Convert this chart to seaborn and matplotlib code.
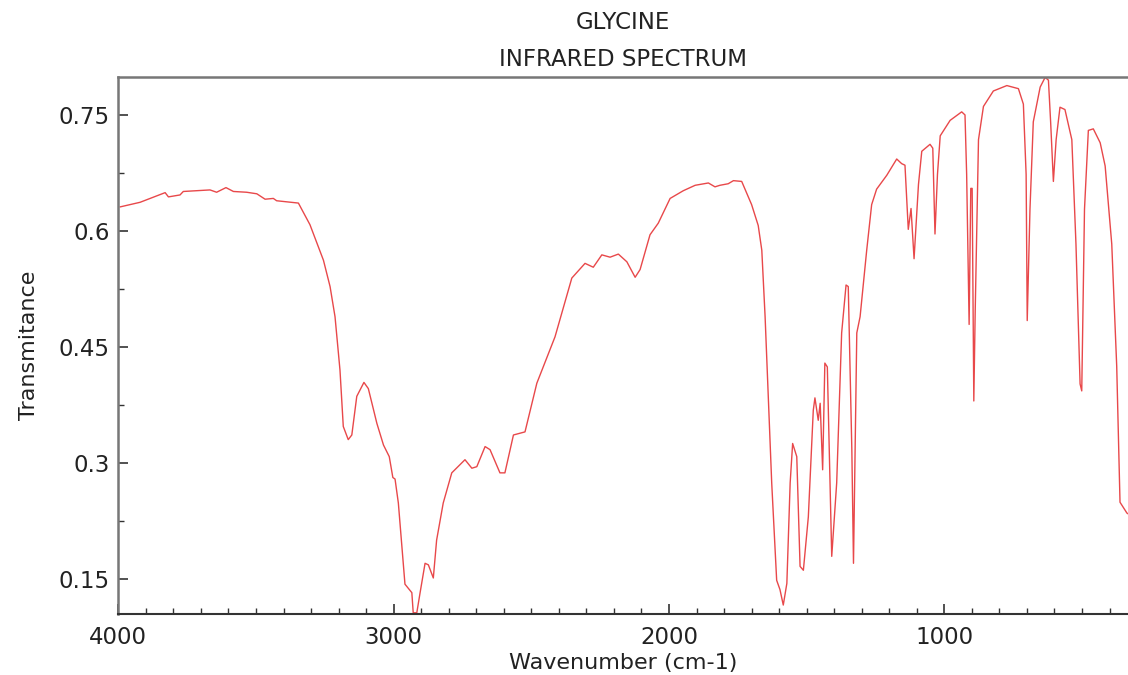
import matplotlib
matplotlib.use("Agg")
import matplotlib.pyplot as plt
import seaborn as sns
import pandas as pd
from matplotlib.ticker import MultipleLocator, FuncFormatter

# IR spectrum of glycine
wavenumber = [
    3994, 3921, 3830, 3818, 3776, 3764, 3667, 3643, 3609, 3582,
    3534, 3497, 3467, 3437, 3425, 3346, 3304, 3255, 3231, 3213,
    3195, 3183, 3165, 3152, 3134, 3108, 3092, 3061, 3037, 3016,
    3003, 2995, 2983, 2959, 2934, 2929, 2916, 2904, 2886, 2874,
    2856, 2844, 2820, 2789, 2741, 2716, 2698, 2668, 2650, 2614,
    2596, 2565, 2523, 2480, 2414, 2353, 2305, 2275, 2244, 2214,
    2184, 2153, 2123, 2105, 2069, 2039, 1996, 1948, 1905, 1857,
    1833, 1815, 1785, 1766, 1736, 1700, 1676, 1663, 1651, 1627,
    1609, 1597, 1585, 1572, 1560, 1551, 1536, 1524, 1512, 1494,
    1476, 1470, 1458, 1451, 1442, 1434, 1425, 1409, 1391, 1373,
    1357, 1349, 1336, 1330, 1324, 1318, 1306, 1282, 1264, 1246,
    1209, 1173, 1155, 1143, 1131, 1121, 1110, 1094, 1082, 1052,
    1042, 1034, 1025, 1015, 979, 937, 925, 919, 910, 904,
    899, 893, 888, 876, 858, 822, 773, 731, 713, 703,
    699, 689, 677, 652, 634, 622, 614, 604, 594, 580,
    562, 537, 522, 507, 501, 491, 477, 459, 434, 416,
    392, 374, 362, 337, 333,
]
transmittance = [
    0.631, 0.637, 0.6495, 0.644, 0.6465, 0.651, 0.653, 0.650, 0.656, 0.651,
    0.650, 0.648, 0.641, 0.642, 0.639, 0.636, 0.608, 0.562, 0.528, 0.489,
    0.420, 0.347, 0.330, 0.336, 0.386, 0.404, 0.396, 0.351, 0.323, 0.308,
    0.281, 0.279, 0.248, 0.143, 0.132, 0.106, 0.106, 0.132, 0.170, 0.168,
    0.151, 0.200, 0.248, 0.287, 0.304, 0.293, 0.295, 0.321, 0.317, 0.287,
    0.287, 0.336, 0.340, 0.403, 0.463, 0.539, 0.558, 0.553, 0.569, 0.566,
    0.570, 0.560, 0.540, 0.550, 0.595, 0.610, 0.642, 0.652, 0.659, 0.662,
    0.657, 0.659, 0.661, 0.665, 0.664, 0.634, 0.607, 0.575, 0.489, 0.274,
    0.148, 0.136, 0.116, 0.144, 0.274, 0.325, 0.308, 0.166, 0.161, 0.230,
    0.368, 0.384, 0.355, 0.377, 0.291, 0.429, 0.424, 0.179, 0.274, 0.468,
    0.530, 0.528, 0.317, 0.170, 0.317, 0.468, 0.489, 0.575, 0.634, 0.654,
    0.672, 0.693, 0.687, 0.685, 0.602, 0.629, 0.564, 0.660, 0.703, 0.712,
    0.707, 0.596, 0.673, 0.723, 0.743, 0.754, 0.750, 0.673, 0.479, 0.655,
    0.655, 0.380, 0.495, 0.718, 0.761, 0.781, 0.788, 0.784, 0.764, 0.673,
    0.484, 0.628, 0.741, 0.786, 0.7986, 0.795, 0.741, 0.664, 0.718, 0.760,
    0.757, 0.718, 0.583, 0.402, 0.393, 0.628, 0.730, 0.732, 0.714, 0.684,
    0.583, 0.425, 0.249, 0.235, 0.234,
]
y_ticks = [0.15, 0.3, 0.45, 0.6, 0.75]
x_ticks = [4000, 3000, 2000, 1000]

df = pd.DataFrame({"wavenumber": wavenumber, "transmittance": transmittance})

sns.set_style("white")
plt.rcParams["font.family"] = ["DejaVu Sans"]
plt.rcParams["xtick.direction"] = "in"
plt.rcParams["ytick.direction"] = "in"

fig = plt.figure(figsize=(11.28, 6.75), dpi=100)
ax = fig.add_axes([0.1049, 0.0899, 0.8951, 0.7965])

sns.lineplot(data=df, x="wavenumber", y="transmittance", estimator=None,
             sort=False, color="#e8484a", linewidth=1.0, ax=ax)

ax.set_xlim(4000, 333)
ax.set_ylim(0.104, 0.7995)
ax.set_xticks(x_ticks)
ax.set_yticks(y_ticks)
ax.xaxis.set_minor_locator(MultipleLocator(100))
ax.yaxis.set_minor_locator(MultipleLocator(0.075))
ax.yaxis.set_major_formatter(FuncFormatter(lambda v, p: f"{v:g}"))
ax.tick_params(which="both", bottom=True, left=True, top=False, right=False,
               direction="in", colors="#333333")
ax.tick_params(which="major", length=7, width=1.2,
               labelsize=16.5, labelcolor="#222222")
ax.tick_params(which="minor", length=4, width=1.0)
ax.tick_params(axis="x", which="major", pad=8.5)
ax.tick_params(axis="y", which="major", pad=6)

for side in ["left", "top"]:
    ax.spines[side].set_color("#777777")
    ax.spines[side].set_linewidth(1.8)
ax.spines["bottom"].set_color("#333333")
ax.spines["bottom"].set_linewidth(1.5)
ax.spines["right"].set_visible(False)

ax.set_xlabel("Wavenumber (cm-1)", fontsize=16, labelpad=2.5, color="#222222")
ax.set_ylabel("Transmitance", fontsize=16, labelpad=14, color="#222222")
ax.set_title("GLYCINE\nINFRARED SPECTRUM", fontsize=16.5, pad=7.5,
             linespacing=1.8, color="#222222")

fig.savefig("out.png", dpi=100)
